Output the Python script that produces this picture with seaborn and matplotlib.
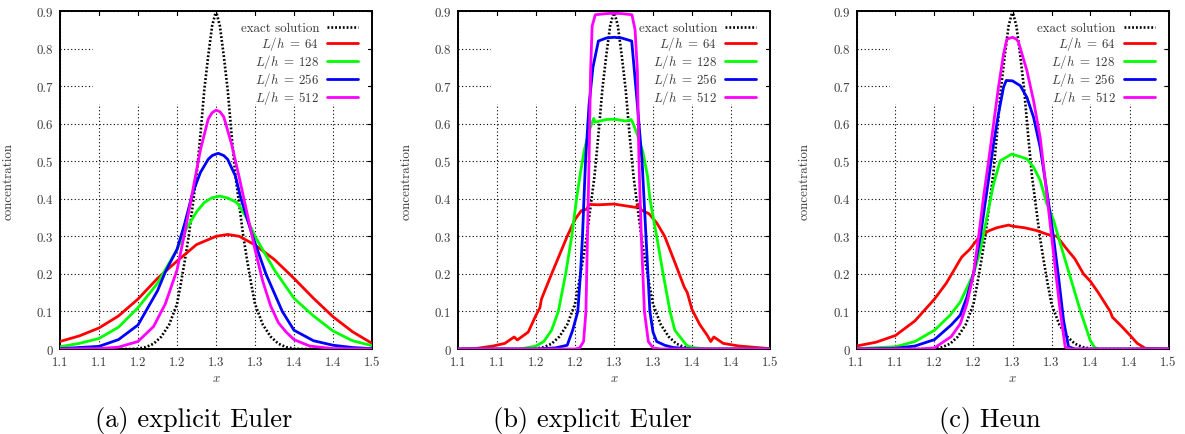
import matplotlib
matplotlib.use('Agg')
import matplotlib.pyplot as plt
import seaborn as sns
from matplotlib.patches import Rectangle

# ---------------- data ----------------
x_ticks = [1.10, 1.15, 1.20, 1.25, 1.30, 1.35, 1.40, 1.45, 1.50]
x_tick_labels = ['1.1', '1.1', '1.2', '1.2', '1.3', '1.3', '1.4', '1.4', '1.5']
y_ticks = [0.0, 0.1, 0.2, 0.3, 0.4, 0.5, 0.6, 0.7, 0.8, 0.9]
y_tick_labels = ['0', '0.1', '0.2', '0.3', '0.4', '0.5', '0.6', '0.7', '0.8', '0.9']
series_labels = ['exact solution', r'$L/h\;=\;64$', r'$L/h\;=\;128$', r'$L/h\;=\;256$', r'$L/h\;=\;512$']
series_colors = ['black', '#ff0000', '#00ff00', '#0000ff', '#ff00ff']
captions = ['(a) explicit Euler', '(b) explicit Euler', '(c) Heun']

exact_x = [1.10, 1.19, 1.20, 1.21, 1.22, 1.23, 1.24, 1.25, 1.255, 1.26, 1.265, 1.27, 1.275, 1.28,
           1.285, 1.29, 1.295, 1.30, 1.305, 1.31, 1.315, 1.32, 1.325, 1.33, 1.335, 1.34, 1.345,
           1.35, 1.36, 1.37, 1.38, 1.39, 1.40, 1.41, 1.50]
exact_y = [0.0, 0.0, 0.001, 0.005, 0.014, 0.033, 0.065, 0.12, 0.175, 0.235, 0.30, 0.38, 0.46, 0.57,
           0.69, 0.78, 0.86, 0.90, 0.86, 0.78, 0.69, 0.57, 0.46, 0.38, 0.30, 0.235, 0.175,
           0.12, 0.065, 0.033, 0.014, 0.005, 0.001, 0.0, 0.0]

# (a) explicit Euler
a_x64 = [1.10, 1.125, 1.15, 1.175, 1.20, 1.225, 1.25, 1.275, 1.30, 1.315, 1.33, 1.35, 1.375,
         1.40, 1.425, 1.45, 1.475, 1.50]
a_y64 = [0.020, 0.035, 0.056, 0.088, 0.133, 0.188, 0.234, 0.278, 0.300, 0.305, 0.300, 0.277, 0.238,
         0.188, 0.135, 0.086, 0.046, 0.015]
a_x128 = [1.10, 1.125, 1.15, 1.175, 1.20, 1.225, 1.25, 1.262, 1.275, 1.285, 1.295, 1.305, 1.315,
          1.325, 1.3286, 1.339, 1.35, 1.375, 1.40, 1.425, 1.45, 1.475, 1.50]
a_y128 = [0.006, 0.015, 0.028, 0.058, 0.110, 0.175, 0.265, 0.320, 0.365, 0.390, 0.403, 0.407, 0.402,
          0.392, 0.385, 0.350, 0.300, 0.210, 0.135, 0.088, 0.048, 0.022, 0.009]
a_x256 = [1.10, 1.15, 1.175, 1.20, 1.225, 1.235, 1.25, 1.26, 1.27, 1.28, 1.29, 1.295, 1.30, 1.303,
          1.31, 1.315, 1.325, 1.332, 1.347, 1.364, 1.385, 1.40, 1.425, 1.45, 1.475, 1.50]
a_y256 = [0.001, 0.007, 0.025, 0.064, 0.155, 0.205, 0.265, 0.335, 0.415, 0.470, 0.505, 0.515,
          0.519, 0.521, 0.515, 0.505, 0.460, 0.400, 0.300, 0.200, 0.100, 0.050, 0.022, 0.010,
          0.004, 0.001]
a_x512 = [1.10, 1.15, 1.175, 1.20, 1.22, 1.235, 1.25, 1.26, 1.27, 1.28, 1.29, 1.295, 1.30, 1.305,
          1.31, 1.32, 1.33, 1.34, 1.35, 1.36, 1.37, 1.38, 1.39, 1.40, 1.42, 1.45, 1.50]
a_y512 = [0.0, 0.001, 0.005, 0.020, 0.060, 0.120, 0.210, 0.310, 0.420, 0.530, 0.612, 0.629, 0.636,
          0.632, 0.618, 0.545, 0.455, 0.360, 0.265, 0.180, 0.115, 0.070, 0.045, 0.025, 0.008,
          0.001, 0.0]

# (b) explicit Euler
b_x64 = [1.10, 1.125, 1.145, 1.16, 1.172, 1.176, 1.19, 1.20, 1.205, 1.207, 1.22, 1.235, 1.24,
         1.25, 1.258, 1.265, 1.268, 1.28, 1.30, 1.328, 1.332, 1.335, 1.345, 1.355, 1.365, 1.38,
         1.39, 1.394, 1.40, 1.41, 1.42, 1.424, 1.428, 1.44, 1.46, 1.50]
b_y64 = [0.0, 0.002, 0.008, 0.015, 0.032, 0.024, 0.045, 0.090, 0.110, 0.133, 0.200, 0.275, 0.300,
         0.345, 0.368, 0.372, 0.385, 0.384, 0.386, 0.377, 0.386, 0.370, 0.360, 0.335, 0.300, 0.220,
         0.165, 0.150, 0.105, 0.065, 0.035, 0.020, 0.032, 0.015, 0.008, 0.001]
b_x128 = [1.10, 1.18, 1.20, 1.21, 1.22, 1.2286, 1.238, 1.2458, 1.252, 1.257, 1.262, 1.268, 1.274,
          1.276, 1.29, 1.30, 1.315, 1.322, 1.325, 1.33, 1.337, 1.343, 1.346, 1.3547, 1.363, 1.3718,
          1.378, 1.393, 1.40, 1.42, 1.50]
b_y128 = [0.0, 0.0, 0.008, 0.020, 0.050, 0.100, 0.200, 0.300, 0.400, 0.470, 0.530, 0.580, 0.614,
          0.604, 0.611, 0.612, 0.607, 0.611, 0.598, 0.570, 0.525, 0.460, 0.400, 0.300, 0.200, 0.100,
          0.050, 0.010, 0.004, 0.0, 0.0]
b_x256 = [1.10, 1.20, 1.225, 1.24, 1.247, 1.2536, 1.257, 1.2596, 1.2615, 1.2635, 1.268, 1.273, 1.28,
          1.29, 1.30, 1.31, 1.3227, 1.33, 1.336, 1.341, 1.346, 1.35, 1.3547, 1.365, 1.376, 1.40, 1.50]
b_y256 = [0.0, 0.0, 0.003, 0.010, 0.050, 0.100, 0.200, 0.300, 0.400, 0.500, 0.650, 0.750, 0.820,
          0.828, 0.830, 0.828, 0.820, 0.650, 0.500, 0.300, 0.100, 0.045, 0.020, 0.010, 0.004, 0.0, 0.0]
b_x512 = [1.10, 1.25, 1.256, 1.261, 1.264, 1.266, 1.268, 1.270, 1.272, 1.276, 1.29, 1.30, 1.31,
          1.323, 1.327, 1.330, 1.332, 1.335, 1.339, 1.344, 1.35, 1.36, 1.50]
b_y512 = [0.0, 0.0, 0.003, 0.020, 0.100, 0.300, 0.500, 0.740, 0.860, 0.890, 0.893, 0.894, 0.893,
          0.890, 0.850, 0.740, 0.500, 0.300, 0.100, 0.020, 0.003, 0.0, 0.0]

# (c) Heun
c_x64 = [1.10, 1.125, 1.15, 1.175, 1.20, 1.215, 1.225, 1.232, 1.235, 1.245, 1.258, 1.27, 1.28,
         1.295, 1.30, 1.315, 1.33, 1.345, 1.357, 1.37, 1.38, 1.391, 1.40, 1.41, 1.4253, 1.428,
         1.44, 1.45, 1.46, 1.47, 1.50]
c_y64 = [0.008, 0.018, 0.036, 0.075, 0.133, 0.175, 0.210, 0.235, 0.245, 0.265, 0.300, 0.315, 0.323,
         0.330, 0.327, 0.323, 0.316, 0.305, 0.300, 0.265, 0.240, 0.200, 0.180, 0.150, 0.100, 0.085,
         0.060, 0.038, 0.015, 0.002, 0.0]
c_x128 = [1.10, 1.15, 1.175, 1.20, 1.22, 1.233, 1.25, 1.2586, 1.2672, 1.2757, 1.2842, 1.299, 1.31,
          1.3185, 1.327, 1.3355, 1.344, 1.3526, 1.3612, 1.374, 1.3868, 1.3996, 1.405, 1.41, 1.50]
c_y128 = [0.001, 0.006, 0.020, 0.050, 0.090, 0.125, 0.200, 0.262, 0.351, 0.439, 0.501, 0.519, 0.512,
          0.506, 0.484, 0.449, 0.387, 0.343, 0.281, 0.192, 0.103, 0.023, 0.005, 0.0, 0.0]
c_x256 = [1.10, 1.15, 1.175, 1.20, 1.2214, 1.233, 1.2415, 1.25, 1.2586, 1.2672, 1.2757, 1.282,
          1.2885, 1.292, 1.30, 1.31, 1.3185, 1.327, 1.3355, 1.344, 1.3526, 1.359, 1.3654, 1.3718,
          1.38, 1.50]
c_y256 = [0.0, 0.002, 0.008, 0.025, 0.064, 0.090, 0.138, 0.200, 0.297, 0.421, 0.546, 0.626,
          0.697, 0.715, 0.714, 0.701, 0.670, 0.617, 0.537, 0.421, 0.297, 0.192, 0.077, 0.006,
          0.0, 0.0]
c_x512 = [1.10, 1.18, 1.20, 1.2214, 1.233, 1.2415, 1.25, 1.2564, 1.2628, 1.2693, 1.2757, 1.282,
          1.2885, 1.2928, 1.30, 1.305, 1.3077, 1.3185, 1.327, 1.3355, 1.342, 1.3483, 1.3547, 1.3612,
          1.3676, 1.375, 1.50]
c_y512 = [0.0, 0.0, 0.003, 0.033, 0.067, 0.120, 0.200, 0.297, 0.404, 0.500, 0.599, 0.697,
          0.785, 0.825, 0.830, 0.825, 0.817, 0.741, 0.661, 0.563, 0.448, 0.333, 0.217, 0.100,
          0.005, 0.0, 0.0]

panels = [
    [(exact_x, exact_y), (a_x64, a_y64), (a_x128, a_y128), (a_x256, a_y256), (a_x512, a_y512)],
    [(exact_x, exact_y), (b_x64, b_y64), (b_x128, b_y128), (b_x256, b_y256), (b_x512, b_y512)],
    [(exact_x, exact_y), (c_x64, c_y64), (c_x128, c_y128), (c_x256, c_y256), (c_x512, c_y512)],
]

# ---------------- style ----------------
sns.set_theme(style='white')
plt.rcParams['font.family'] = ['cmr10', 'DejaVu Serif']
plt.rcParams['mathtext.fontset'] = 'cm'
plt.rcParams['axes.unicode_minus'] = False
plt.rcParams['axes.formatter.use_mathtext'] = True

W, H = 1185, 435
fig = plt.figure(figsize=(W / 100, H / 100), dpi=100)
ax_lefts = [60, 458, 856.5]
caption_x = [194, 592.5, 990]
text_color = '#3a3a3a'
small = 9.3

for i, series in enumerate(panels):
    ax = fig.add_axes([ax_lefts[i] / W, 1 - 350 / H, 312 / W, 338 / H])
    ax.set_axisbelow(True)
    ax.grid(True, color='black', linestyle=(0, (1, 2.2)), linewidth=0.8)
    # opaque key area (hides grid behind legend)
    ax.add_patch(Rectangle((0.1058, 0.7244), 0.881, 0.261, transform=ax.transAxes,
                           facecolor='white', edgecolor='none', zorder=1))
    handles = []
    for k, ((xs, ys), lab, col) in enumerate(zip(series, series_labels, series_colors)):
        if k == 0:
            sns.lineplot(x=xs, y=ys, ax=ax, color=col, linewidth=1.9, errorbar=None,
                         linestyle=(0, (0.7, 0.75)), zorder=2 + k)
        else:
            sns.lineplot(x=xs, y=ys, ax=ax, color=col, linewidth=2.0, errorbar=None,
                         zorder=2 + k)
        handles.append(ax.lines[-1])
    ax.set_xlim(1.1, 1.5)
    ax.set_ylim(0, 0.9)
    ax.set_xticks(x_ticks)
    ax.set_xticklabels(x_tick_labels)
    ax.set_yticks(y_ticks)
    ax.set_yticklabels(y_tick_labels)
    ax.tick_params(direction='in', length=3.5, width=0.8, top=True, right=True,
                   labelsize=small, labelcolor=text_color, pad=5, color='black')
    for s in ax.spines.values():
        s.set_color('black')
        s.set_linewidth(1.4)
    ax.set_xlabel('$x$', fontsize=small, color=text_color, labelpad=3)
    ax.set_ylabel('concentration', fontsize=small, color=text_color)
    ax.yaxis.set_label_coords(-0.146, 0.5)
    leg = ax.legend(handles, series_labels, loc='upper right', markerfirst=False,
                    frameon=False, fontsize=small, handlelength=2.4, handletextpad=0.6,
                    labelspacing=0.0, borderpad=0.0, borderaxespad=0.0,
                    bbox_to_anchor=(1 - 14 / 312, 1 - 11 / 338), labelcolor=text_color)
    fig.text(caption_x[i] / W, 1 - 427 / H, captions[i], ha='center', va='baseline',
             fontsize=19, color='black')

fig.savefig('out.png', dpi=100)
